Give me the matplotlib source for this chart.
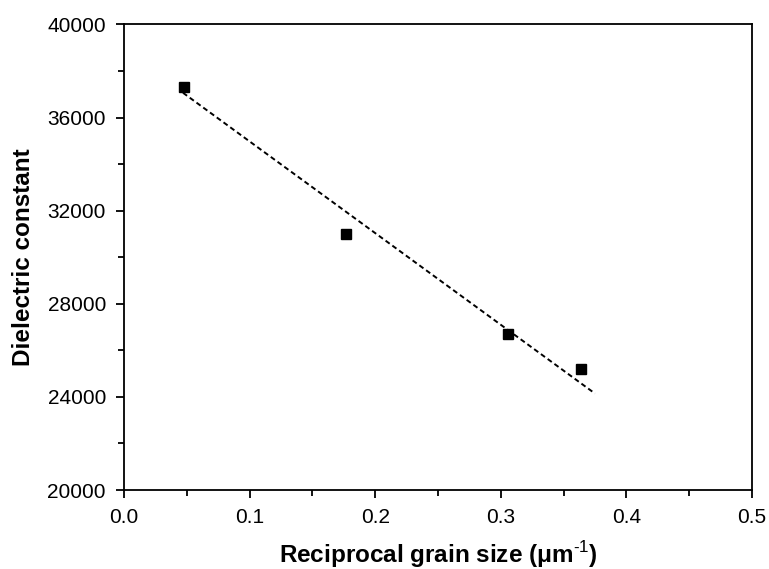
import matplotlib.pyplot as plt
from matplotlib.ticker import MultipleLocator

plt.rcParams['font.family'] = ['Liberation Sans', 'DejaVu Sans']
plt.rcParams['mathtext.fontset'] = 'custom'
plt.rcParams['mathtext.rm'] = 'Liberation Sans'
plt.rcParams['mathtext.bf'] = 'Liberation Sans:bold'

# reciprocal grain size (1/um) and dielectric constant
inv_grain = [0.048, 0.177, 0.306, 0.364]
eps_r = [37330, 31000, 26690, 25210]

# linear fit line end points
fit_x = [0.047, 0.375]
fit_y = [37065, 24145]


def plot_dielectric():
    fig = plt.figure(figsize=(7.69, 5.69), dpi=100)
    ax = fig.add_axes([0.1612, 0.1388, 0.8167, 0.8182])

    ax.plot(fit_x, fit_y, color="black", linestyle=(0, (2.6, 1.7)), linewidth=1.4)
    ax.plot(inv_grain, eps_r, linestyle="none", marker="s", markersize=7.2,
            color="black")

    ax.set_xlim(0.0, 0.5)
    ax.set_ylim(20000, 40000)
    ax.xaxis.set_major_locator(MultipleLocator(0.1))
    ax.xaxis.set_minor_locator(MultipleLocator(0.05))
    ax.yaxis.set_major_locator(MultipleLocator(4000))
    ax.yaxis.set_minor_locator(MultipleLocator(2000))
    ax.xaxis.set_major_formatter(plt.FormatStrFormatter("%.1f"))

    for s in ax.spines.values():
        s.set_linewidth(1.3)
    ax.tick_params(which="major", direction="out", length=6, width=1.3,
                   labelsize=15, pad=7)
    ax.tick_params(which="minor", direction="out", length=4, width=1.3)

    ax.set_xlabel(r"Reciprocal grain size (μm$^{\text{-1}}$)",
                  fontsize=17.5, fontweight="bold", labelpad=9)
    ax.set_ylabel("Dielectric constant", fontsize=17.5, fontweight="bold",
                  labelpad=9)

    fig.savefig("out.png", dpi=100)


if __name__ == "__main__":
    plot_dielectric()
